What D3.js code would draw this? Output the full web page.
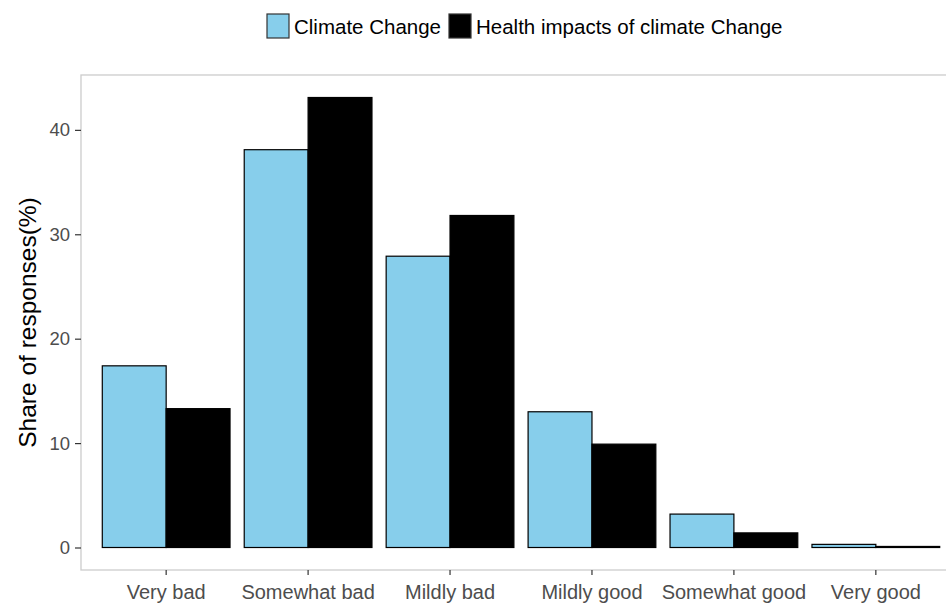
<!DOCTYPE html>
<html>
<head>
<meta charset="utf-8">
<script src="https://cdn.jsdelivr.net/npm/d3@7"></script>
<style>
    body { margin: 0; background: #fff; }
    svg { display: block; font-family: Arial, "Liberation Sans", sans-serif; }
</style>
</head>
<body>
<div id="chart"></div>
<script>
const categories = ["Very bad", "Somewhat bad", "Mildly bad", "Mildly good", "Somewhat good", "Very good"];
const seriesNames = ["Climate Change", "Health impacts of climate Change"];
const climateChange = [17.4, 38.1, 27.9, 13.0, 3.2, 0.3];
const healthImpacts = [13.3, 43.1, 31.8, 9.9, 1.4, 0.1];
const yTicks = [0, 10, 20, 30, 40];
const colors = ["#87CEEB", "#000000"];

const svgW = 946;
const svgH = 604;
const panel = { left: 81, right: 961, top: 75, bottom: 570 };

const data = categories.map((c, i) => ({
    category: c,
    values: [climateChange[i], healthImpacts[i]]
}));

const maxV = d3.max([...climateChange, ...healthImpacts]);
const pad = maxV * 0.05; // ggplot-style expansion

const xScale = d3.scaleBand()
    .domain(categories)
    .range([panel.left, panel.right])
    .paddingInner(0.1)
    .paddingOuter(0.15);

const xInner = d3.scaleBand()
    .domain(seriesNames)
    .range([0, xScale.bandwidth()]);

const yScale = d3.scaleLinear()
    .domain([-pad, maxV + pad])
    .range([panel.bottom, panel.top]);

const colorScale = d3.scaleOrdinal().domain(seriesNames).range(colors);

const svg = d3.select("#chart")
    .append("svg")
    .attr("width", svgW)
    .attr("height", svgH);

// panel border
svg.append("rect")
    .attr("x", panel.left)
    .attr("y", panel.top)
    .attr("width", panel.right - panel.left)
    .attr("height", panel.bottom - panel.top)
    .attr("fill", "none")
    .attr("stroke", "#cccccc")
    .attr("stroke-width", 1.3);

// bars
const groups = svg.selectAll("g.cat")
    .data(data)
    .enter()
    .append("g")
    .attr("class", "cat")
    .attr("transform", d => `translate(${xScale(d.category)}, 0)`);

groups.selectAll("rect")
    .data(d => d.values.map((v, i) => ({ series: seriesNames[i], value: v })))
    .enter()
    .append("rect")
    .attr("x", d => xInner(d.series))
    .attr("y", d => yScale(d.value))
    .attr("width", xInner.bandwidth())
    .attr("height", d => yScale(0) - yScale(d.value))
    .attr("fill", d => colorScale(d.series))
    .attr("stroke", "#000")
    .attr("stroke-width", 1.2);

// axes
const xAxis = svg.append("g")
    .attr("transform", `translate(0, ${panel.bottom})`)
    .call(d3.axisBottom(xScale).tickSize(5).tickPadding(10));

const yAxis = svg.append("g")
    .attr("transform", `translate(${panel.left}, 0)`)
    .call(d3.axisLeft(yScale).tickValues(yTicks).tickSize(6).tickPadding(5));

[xAxis, yAxis].forEach(ax => {
    ax.select(".domain").remove();
    ax.selectAll(".tick line").attr("stroke", "#333333").attr("stroke-width", 1.2);
    ax.selectAll(".tick text").attr("fill", "#4d4d4d");
});
xAxis.selectAll(".tick text").attr("dy", "0.71em").style("font-size", "20px");
yAxis.selectAll(".tick text").style("font-size", "18.5px");

// y-axis title
svg.append("text")
    .text("Share of responses(%)")
    .attr("transform", `translate(36, ${(panel.top + panel.bottom) / 2}) rotate(-90)`)
    .style("text-anchor", "middle")
    .style("font-size", "24.5px")
    .attr("fill", "#000");

// legend
const legend = svg.append("g").attr("transform", "translate(267, 14)");
let lx = 0;
seriesNames.forEach(name => {
    const item = legend.append("g").attr("transform", `translate(${lx}, 0)`);
    item.append("rect")
        .attr("width", 22)
        .attr("height", 24)
        .attr("fill", colorScale(name))
        .attr("stroke", "#333")
        .attr("stroke-width", 1.2);
    const t = item.append("text")
        .text(name)
        .attr("x", 27)
        .attr("y", 20)
        .style("font-size", "20.5px")
        .attr("fill", "#000");
    lx += 27 + t.node().getComputedTextLength() + 8;
});
</script>
</body>
</html>
